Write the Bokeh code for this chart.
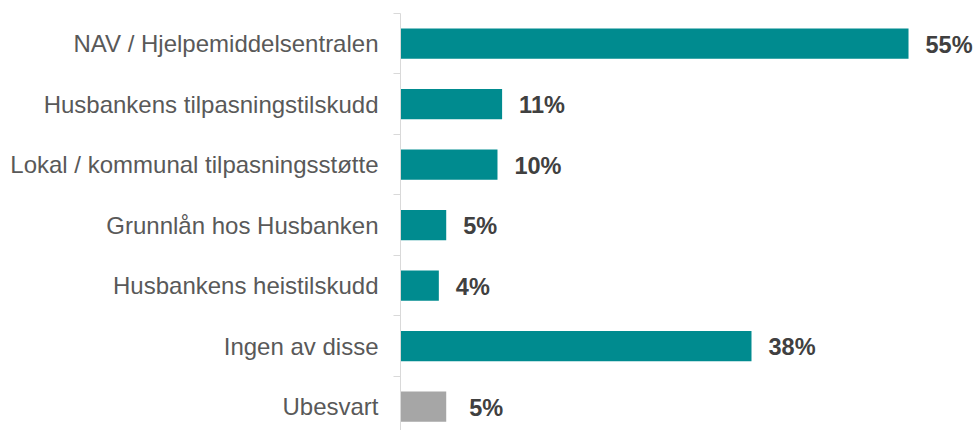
from bokeh.plotting import figure
from bokeh.models import ColumnDataSource, FixedTicker, Range1d
from bokeh.embed import file_html
from bokeh.resources import INLINE
from bokeh.core.properties import value

categories = [
    "NAV / Hjelpemiddelsentralen",
    "Husbankens tilpasningstilskudd",
    "Lokal / kommunal tilpasningsstøtte",
    "Grunnlån hos Husbanken",
    "Husbankens heistilskudd",
    "Ingen av disse",
    "Ubesvart",
]
values = [55, 11, 10.5, 4.95, 4.15, 38, 4.95]
labels = ["55%", "11%", "10%", "5%", "4%", "38%", "5%"]
colors = ["#008B8F"] * 6 + ["#A6A6A6"]

FONT = "Liberation Sans"

n = len(categories)
ypos = list(range(n))
main = ColumnDataSource(dict(y=ypos[:6], v=values[:6], lab=labels[:6], c=colors[:6]))
other = ColumnDataSource(dict(y=ypos[6:], v=values[6:], lab=labels[6:], c=colors[6:]))

p = figure(width=976, height=430, output_backend="svg", toolbar_location=None,
           x_range=Range1d(0, 62.36), y_range=Range1d(6.393, -0.5),
           min_border_left=400, min_border_right=0, min_border_top=13, min_border_bottom=0)
p.outline_line_color = None
p.grid.grid_line_color = None
p.xaxis.visible = False
p.background_fill_color = "white"
p.border_fill_color = "white"

for src, off in ((main, 17), (other, 23)):
    p.hbar(y="y", right="v", left=0, height=0.5, color="c", line_color=None, source=src)
    p.text(x="v", y="y", text="lab", source=src, x_offset=off, y_offset=1,
           text_font=value(FONT), text_font_style="bold", text_font_size="23.5px",
           text_color="#404040", text_baseline="middle", text_align="left")

ya = p.yaxis[0]
ya.ticker = FixedTicker(ticks=ypos, minor_ticks=[i - 0.5 for i in range(n + 1)])
ya.major_label_overrides = {i: c for i, c in enumerate(categories)}
ya.major_tick_line_color = None
ya.major_tick_out = 0
ya.major_tick_in = 0
ya.minor_tick_line_color = "#D9D9D9"
ya.minor_tick_out = 7
ya.minor_tick_in = 0
ya.axis_line_color = "#D9D9D9"
ya.axis_line_width = 1
ya.major_label_standoff = 15
ya.major_label_text_font = FONT
ya.major_label_text_font_size = "24px"
ya.major_label_text_color = "#595959"

open("out.html", "w").write(file_html(p, INLINE))
